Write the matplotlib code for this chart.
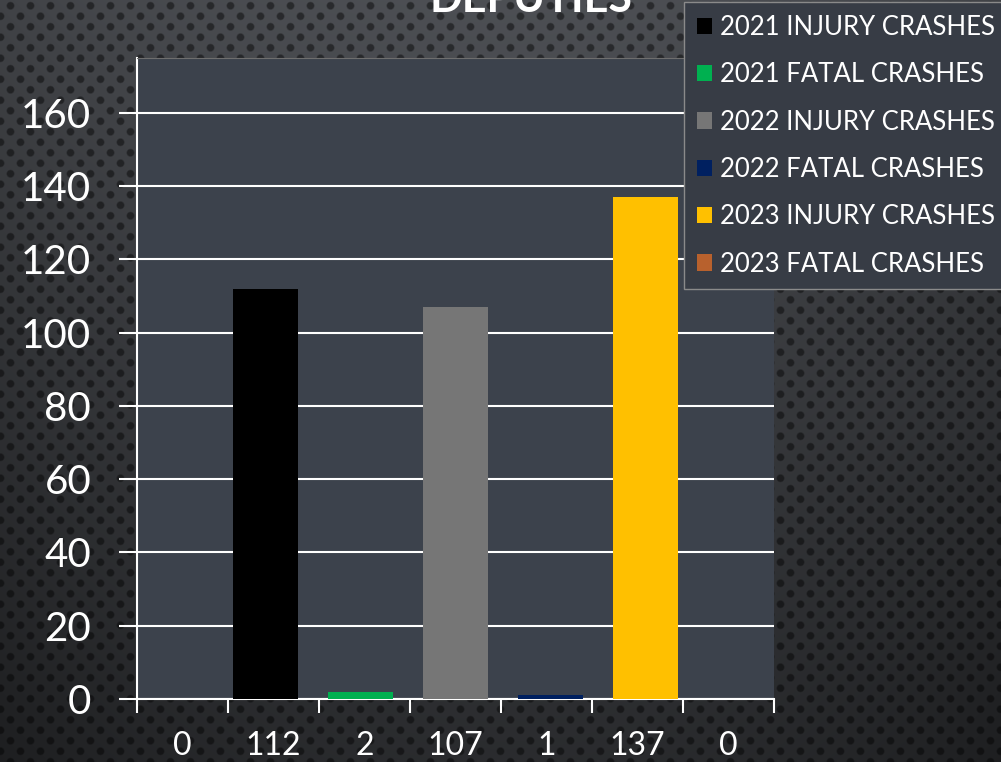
import numpy as np
import matplotlib
matplotlib.use("Agg")
import matplotlib.pyplot as plt
from matplotlib.patches import Patch

# data
tick_labels = ["0", "112", "2", "107", "1", "137", "0"]
counts = [0, 112, 2, 107, 1, 137, 0]
series_names = [None, "2021 INJURY CRASHES", "2021 FATAL CRASHES",
                "2022 INJURY CRASHES", "2022 FATAL CRASHES",
                "2023 INJURY CRASHES", "2023 FATAL CRASHES"]
bar_colors = ["none", "#000000", "#00b050", "#767676", "#002060", "#ffc000", "#b8612d"]
y_ticks = [0, 20, 40, 60, 80, 100, 120, 140, 160]

W, H = 1001, 762
plt.rcParams["font.family"] = ["Lato", "DejaVu Sans"]

fig = plt.figure(figsize=(W / 100, H / 100), dpi=100)

# perforated dark background texture
yy, xx = np.mgrid[0:H, 0:W].astype(float)
shade = 0.31 - 0.14 * (yy / H) - 0.05 * ((xx - W / 2) / (W / 2)) ** 2
row = np.floor(yy / 10.5)
dx = (xx + 10 * (row % 2)) % 20 - 10
dy = yy % 10.5 - 5.25
r = np.sqrt(dx ** 2 + dy ** 2)
dots = np.clip((4.5 - r) / 1.5, 0, 1)
val = shade * (1 - 0.45 * dots)
img = np.dstack([val * 0.97, val * 1.0, val * 1.06])
img = np.clip(img, 0, 1)
fig.figimage(img, xo=0, yo=0, origin="upper", zorder=-10)

ax = fig.add_axes([137 / W, 1 - 699 / H, (774 - 137) / W, (699 - 58) / H])
ax.set_facecolor("#3c424c")

# one cluster of series bars spread across the plot
n = len(counts)
x = np.arange(n)
step = 95 / 91
bar_x = (n - 1) / 2 + (x - (n - 1) / 2) * step
ax.bar(bar_x, counts, width=0.715, color=bar_colors, zorder=3)

ax.set_xlim(-0.5, n - 0.5)
ax.set_ylim(0, 175)
ax.set_yticks(y_ticks)
ax.set_yticklabels([str(v) for v in y_ticks])
ax.yaxis.grid(True, color="white", linewidth=1.5, zorder=1)

ax.set_xticks(np.arange(n + 1) - 0.5)
ax.set_xticklabels([])
ax.set_xticks(x, minor=True)
ax.set_xticklabels(tick_labels, minor=True)

ax.tick_params(axis="y", colors="white", labelsize=29, length=13, width=1.5, pad=20)
ax.tick_params(axis="x", which="major", colors="white", length=10, width=1.5)
ax.tick_params(axis="x", which="minor", colors="white", length=0, labelsize=23, pad=23)

for s in ["left", "bottom"]:
    ax.spines[s].set_color("white")
    ax.spines[s].set_linewidth(1.5)
ax.spines["top"].set_color("#6e6e6e")
ax.spines["right"].set_visible(False)

fig.text(0.53, 1 - 12 / H, "DEPUTIES", color="white", fontsize=31,
         fontweight="bold", ha="center", va="baseline")

handles = [Patch(facecolor=c, label=n) for c, n in zip(bar_colors, series_names) if n]
leg = fig.legend(handles=handles, loc="upper left", bbox_to_anchor=(684 / W, 1 - 2 / H),
                 fontsize=18.5, frameon=True, fancybox=False, labelcolor="white",
                 handlelength=0.6, handleheight=0.6, handletextpad=0.3,
                 labelspacing=0.87, borderpad=0.5, borderaxespad=0)
leg.get_frame().set_facecolor("#373c45")
leg.get_frame().set_edgecolor("#8a8a8a")
leg.get_frame().set_alpha(1)

fig.savefig("out.png", dpi=100)
